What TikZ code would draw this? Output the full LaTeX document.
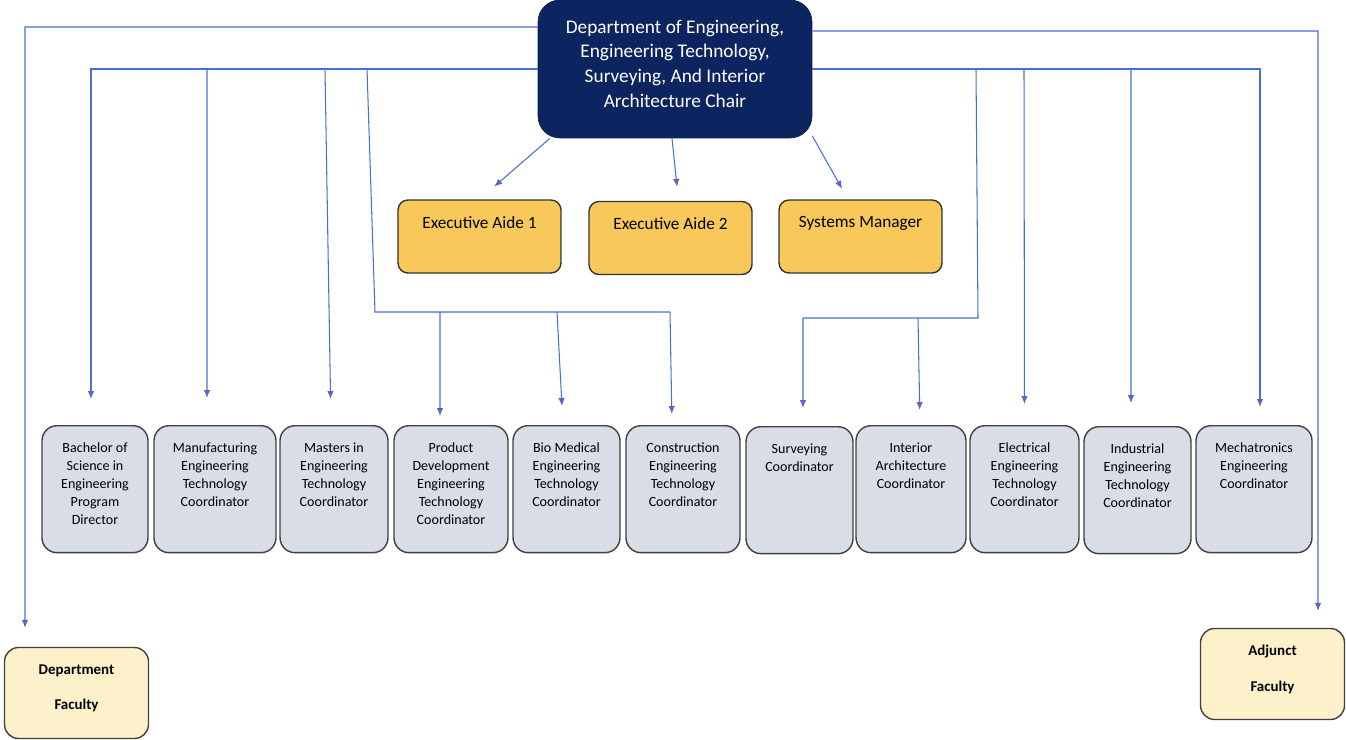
\documentclass[tikz,border=0pt]{standalone}
\usepackage{fontspec}
\setmainfont{Carlito}
\usetikzlibrary{arrows.meta,calc}

\definecolor{navy}{RGB}{12,36,96}
\definecolor{aidegold}{RGB}{249,200,90}
\definecolor{coordgray}{RGB}{217,221,229}
\definecolor{faccream}{RGB}{253,241,204}
\definecolor{lineblue}{RGB}{70,112,212}
\definecolor{tipblue}{RGB}{96,98,196}

\tikzset{
    toptext/.style 2 args={
        execute at begin node={\begin{minipage}[c][#1][t]{#2}\centering},
        execute at end node={\end{minipage}}
    },
    chairbox/.style={
        rectangle,
        rounded corners=0.44cm,
        draw=navy!80!black,
        fill=navy,
        text=white,
        minimum width=5.48cm,
        inner xsep=0pt,
        inner ysep=0.4cm,
        font=\fontsize{11}{14}\selectfont,
        toptext={1.96cm}{5cm}
    },
    aidebox/.style={
        rectangle,
        rounded corners=0.2cm,
        draw=black!80,
        line width=0.8pt,
        fill=aidegold,
        minimum width=3.26cm,
        inner xsep=0pt,
        inner ysep=0.33cm,
        font=\fontsize{9.8}{11}\selectfont,
        toptext={0.8cm}{3cm}
    },
    coordbox/.style={
        rectangle,
        rounded corners=0.3cm,
        draw=black!75,
        line width=0.8pt,
        fill=coordgray,
        anchor=north,
        inner xsep=0pt,
        inner ysep=0.34cm,
        font=\fontsize{8}{10.2}\selectfont,
        toptext={1.86cm}{2cm}
    },
    facbox/.style={
        rectangle,
        rounded corners=0.28cm,
        draw=black!75,
        line width=0.8pt,
        fill=faccream,
        minimum width=2.88cm,
        inner xsep=0pt,
        inner ysep=0.34cm,
        font=\bfseries\fontsize{8.5}{10.5}\selectfont,
        toptext={1.14cm}{2.6cm}
    },
    link/.style={draw=lineblue, line width=0.6pt},
    arr/.style={link, -{Latex[length=0.16cm,width=0.13cm,color=tipblue]}}
}

\begin{document}
\begin{tikzpicture}[x=0.02cm, y=-0.02cm]
\useasboundingbox (0,0) rectangle (1346,740);

% top of the chart
\node[chairbox] (chair) at (675,69) {Department of Engineering,\\Engineering Technology,\\Surveying, And Interior\\Architecture Chair};

\node[aidebox] (aide1) at (479.5,236.5) {Executive Aide 1};
\node[aidebox] (aide2) at (670.5,238) {Executive Aide 2};
\node[aidebox] (sysman) at (860.5,236.5) {Systems Manager};

% coordinators
\node[coordbox, minimum width=2.12cm] (bach) at (95,425) {Bachelor of\\Science in\\Engineering\\Program\\Director};
\node[coordbox, minimum width=2.44cm] (manu) at (215,425) {Manufacturing\\Engineering\\Technology\\Coordinator};
\node[coordbox, minimum width=2.16cm] (mast) at (334,425) {Masters in\\Engineering\\Technology\\Coordinator};
\node[coordbox, minimum width=2.28cm] (prod) at (451,425) {Product\\Development\\Engineering\\Technology\\Coordinator};
\node[coordbox, minimum width=2.14cm] (bio) at (566.5,425) {Bio Medical\\Engineering\\Technology\\Coordinator};
\node[coordbox, minimum width=2.28cm] (cons) at (683,425) {Construction\\Engineering\\Technology\\Coordinator};
\node[coordbox, minimum width=2.14cm] (surv) at (799.5,426) {Surveying\\Coordinator};
\node[coordbox, minimum width=2.2cm] (inte) at (911,425) {Interior\\Architecture\\Coordinator};
\node[coordbox, minimum width=2.18cm] (elec) at (1024.5,425) {Electrical\\Engineering\\Technology\\Coordinator};
\node[coordbox, minimum width=2.14cm] (indu) at (1137.5,426) {Industrial\\Engineering\\Technology\\Coordinator};
\node[coordbox, minimum width=2.32cm] (mech) at (1254,425) {Mechatronics\\Engineering\\Coordinator};

% faculty
\node[facbox] (dept) at (76.5,693) {Department\\[9.5pt]Faculty};
\node[facbox] (adj) at (1272.5,674) {Adjunct\\[9.5pt]Faculty};

% junctions
\coordinate (lcorner) at (25,27);
\coordinate (rcorner) at (1318,31);
\coordinate (jmanu) at (207,69);
\coordinate (jmast) at (325,69);
\coordinate (jprod) at (367,69);
\coordinate (pbus) at (375,312);
\coordinate (jp1) at (440,312);
\coordinate (jp2) at (557,312);
\coordinate (pend) at (670,312);
\coordinate (jsurv) at (976,69);
\coordinate (sbus) at (978,318);
\coordinate (jinte) at (918,318);
\coordinate (send) at (803,318);
\coordinate (jelec) at (1024,69);
\coordinate (jindu) at (1131,69);

% chair to staff
\draw[arr, shorten >=0.39cm] (chair.209) -- (aide1.north);
\draw[arr, shorten >=0.28cm] ([xshift=-0.06cm]chair.south) -- ([xshift=0.16cm]aide2.north);
\draw[arr, shorten >=0.24cm] (chair.-26) -- ([xshift=-0.25cm]sysman.north);

% faculty lines
\draw[arr, shorten >=0.38cm] ([yshift=0.84cm]chair.west) -- (lcorner) -- (lcorner |- dept.north);
\draw[arr, shorten >=0.34cm] ([yshift=0.76cm]chair.east) -- (rcorner) -- (rcorner |- adj.north);

% left side
\draw[arr, shorten >=0.52cm] (chair.west) -| ([xshift=-0.08cm]bach.north);
\draw[arr, shorten >=0.54cm] (jmanu) -- ([xshift=-0.16cm]manu.north);
\draw[arr, shorten >=0.52cm] (jmast) -- ([xshift=-0.06cm]mast.north);
\draw[link] (jprod) -- (pbus) -- (pend);
\draw[arr, shorten >=0.18cm] (jp1) -- ([xshift=-0.22cm]prod.north);
\draw[arr, shorten >=0.38cm] (jp2) -- ([xshift=-0.07cm]bio.north);
\draw[arr, shorten >=0.22cm] (pend) -- ([xshift=-0.22cm]cons.north);

% right side
\draw[arr, shorten >=0.36cm] (chair.east) -| ([xshift=0.12cm]mech.north);
\draw[link] (jsurv) -- (sbus) -- (send);
\draw[arr, shorten >=0.36cm] (send) -- ([xshift=0.07cm]surv.north);
\draw[arr, shorten >=0.3cm] (jinte) -- ([xshift=0.18cm]inte.north);
\draw[arr, shorten >=0.42cm] (jelec) -- (elec.north);
\draw[arr, shorten >=0.46cm] (jindu) -- ([xshift=-0.13cm]indu.north);

\end{tikzpicture}
\end{document}
